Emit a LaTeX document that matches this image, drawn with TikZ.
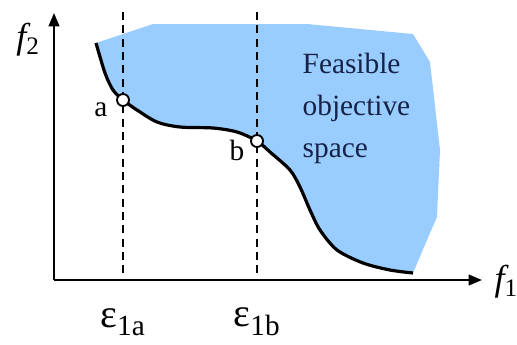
\documentclass[tikz,border=0pt]{standalone}
\usepackage{fontspec}
\setmainfont{LiberationSerif}[Extension=.ttf, UprightFont=*-Regular, ItalicFont=*-Italic, BoldFont=*-Bold]
\newfontfamily\timesfont{LiberationSerif}[Extension=.ttf, UprightFont=*-Regular, ItalicFont=*-Italic, BoldFont=*-Bold]
\usepackage{xcolor}
\usepackage{tikz}
\usetikzlibrary{arrows.meta}
\usetikzlibrary{positioning}

\begin{document}
\begin{tikzpicture}[
      % un'unita = un pixel del disegno originale, asse y verso il basso
      x=0.75pt,
      y=-0.75pt,
      line join=round,
      line cap=butt
  ]

  % Palette
  \definecolor{feasblue}{RGB}{153, 204, 255}
  \definecolor{feastext}{RGB}{22, 34, 70}

  \tikzset{
      axis/.style={draw=black, line width=1.5pt, -{Triangle[length=10pt, width=8pt]}},
      level/.style={draw=black, line width=1.1pt, dash pattern=on 6pt off 4pt},
      front/.style={draw=black, line width=2.4pt},
      sol/.style={circle, draw=black, fill=white, line width=1.4pt, minimum size=9pt, inner sep=0pt},
      lbl/.style={font=\timesfont\fontsize{22}{26}\selectfont},
      flbl/.style={font=\timesfont\fontsize{27}{30}\selectfont},
      eps/.style={font=\timesfont\fontsize{30}{34}\selectfont}
  }

  % Fronte di Pareto (punti di passaggio)
  \def\fronte{(96,43) (105,73) (113,90) (123,100) (137,110) (157,122) (180,127) (213,128)
              (237,132) (257,141) (270,152) (290,170) (300,187) (310,210) (320,230)
              (337,250) (363,263) (390,270) (413,273)}

  \useasboundingbox (0,0) rectangle (517,344);

  % 1. Regione ammissibile
  \fill[feasblue] plot[smooth, tension=0.5] coordinates {\fronte}
      -- (430,233) -- (437,217) -- (440,150) -- (430,62) -- (413,34) -- (307,24) -- (153,24) -- cycle;

  % 2. Assi
  \coordinate (O)  at (54,280);
  \coordinate (X)  at (482,280);
  \coordinate (Y)  at (54,13);
  \draw[axis] (O) -- (X);
  \draw[axis] (O) -- (Y);
  \node[flbl, anchor=west] (f1) at (490,282) {\itshape f\textsubscript{\upshape 1}};
  \node[flbl] (f2) at (28,40) {\itshape f\textsubscript{\upshape 2}};

  % 3. Vincoli epsilon
  \coordinate (ta) at (123,12);
  \coordinate (ba) at (123,280);
  \coordinate (tb) at (257,12);
  \coordinate (bb) at (257,280);
  \draw[level] (ta) -- (ba);
  \draw[level] (tb) -- (bb);
  \node[eps] (e1a) at (123,322) {ε\textsubscript{\fontsize{22}{24}\selectfont 1a}};
  \node[eps] (e1b) at (257,322) {ε\textsubscript{\fontsize{22}{24}\selectfont 1b}};

  % 4. Fronte e soluzioni
  \draw[front] plot[smooth, tension=0.5] coordinates {\fronte};
  \node[sol] (a) at (123,100) {};
  \node[sol] (b) at (257,141) {};
  \node[lbl] (la) at (101,110) {a};
  \node[lbl] (lb) at (237,150) {b};

  % 5. Testo
  \node[text=feastext, anchor=north west, align=left,
        font=\timesfont\fontsize{22}{31.5}\selectfont] (txt) at (298,48) {Feasible\\objective\\space};

\end{tikzpicture}
\end{document}
